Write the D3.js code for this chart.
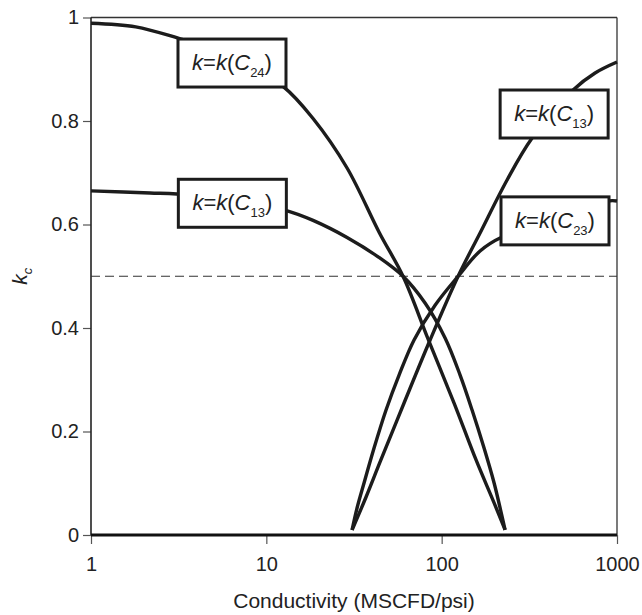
<!DOCTYPE html>
<html>
<head>
<meta charset="utf-8">
<script src="https://cdn.jsdelivr.net/npm/d3@7"></script>
<style>
  html, body { margin: 0; padding: 0; background: #fff; }
  svg { display: block; }
  text { font-family: "Liberation Sans", Arial, Helvetica, sans-serif; fill: #222; }
</style>
</head>
<body>
<svg id="chart" width="642" height="615"></svg>
<script>
// Tick values
const xTicks = [1, 10, 100, 1000];
const yTicks = [0, 0.2, 0.4, 0.6, 0.8, 1];
const threshold = 0.5;

// Relative permeability curves: [conductivity, k]
const kC24Falling = [
  [1, 0.989], [1.8, 0.982], [3.14, 0.960], [6.21, 0.9275], [12.45, 0.867],
  [18.47, 0.8048], [28.87, 0.7092], [44.2, 0.5836], [60.2, 0.5], [83.6, 0.379],
  [117.7, 0.255], [157.1, 0.145], [199.1, 0.062], [230, 0.0097]
];
const kC13Falling = [
  [1, 0.665], [2.17, 0.661], [3.09, 0.659], [6.37, 0.647], [13.3, 0.626],
  [18.47, 0.608], [28.87, 0.575], [43.4, 0.5376], [60.2, 0.5], [80.4, 0.4483],
  [104.6, 0.3807], [127.4, 0.309], [149.1, 0.2415], [174.5, 0.168],
  [199.1, 0.1005], [215.4, 0.0522], [230, 0.0097]
];
const kC13Rising = [
  [30.83, 0.0097], [37.05, 0.0734], [44.54, 0.1411], [61.03, 0.2551],
  [85.9, 0.3768], [124.1, 0.5], [165.6, 0.5836], [236.1, 0.686],
  [328, 0.7671], [561.9, 0.8599], [749.9, 0.8928], [1000, 0.914]
];
const kC23Rising = [
  [30.83, 0.0097], [32.92, 0.0522], [36.08, 0.1005], [41.16, 0.168],
  [48.17, 0.2415], [57.15, 0.309], [69.6, 0.377], [91.7, 0.444],
  [124.1, 0.5], [165.6, 0.5488], [221.1, 0.5758], [443.6, 0.6087],
  [889.6, 0.6454], [1000, 0.6454]
];

// Curve labels: subscript text and box centre in data space
const labelSubs = ["24", "13", "13", "23"];
const labelAnchors = [[6.37, 0.912], [6.4, 0.641], [438, 0.8135], [443, 0.607]];

const svg = d3.select("#chart");
const plot = { left: 91, right: 617, top: 17.5, bottom: 535 };

const x = d3.scaleLog().domain([1, 1000]).range([plot.left, plot.right]);
const y = d3.scaleLinear().domain([0, 1]).range([plot.bottom, plot.top]);

// Axes
const xAxis = svg.append("g")
  .attr("transform", `translate(0,${plot.bottom})`)
  .call(d3.axisBottom(x).tickValues(xTicks).tickFormat(d3.format("d"))
    .tickSize(9).tickPadding(13));
const yAxis = svg.append("g")
  .attr("transform", `translate(${plot.left},0)`)
  .call(d3.axisLeft(y).tickValues(yTicks)
    .tickFormat(d => d === 0 || d === 1 ? d3.format("d")(d) : d3.format(".1f")(d))
    .tickSize(8).tickPadding(4));
[xAxis, yAxis].forEach(g => {
  g.select(".domain").remove();
  g.selectAll(".tick line").attr("stroke", "#555").attr("stroke-width", 1.2);
  g.selectAll(".tick text").attr("font-size", 20).attr("fill", "#222")
    .style("font-family", '"Liberation Sans", Arial, sans-serif');
});

// Frame
svg.append("line").attr("x1", plot.left).attr("x2", plot.right)
  .attr("y1", plot.top).attr("y2", plot.top).attr("stroke", "#333").attr("stroke-width", 1.3);
svg.append("line").attr("x1", plot.right).attr("x2", plot.right)
  .attr("y1", plot.top).attr("y2", plot.bottom).attr("stroke", "#333").attr("stroke-width", 1.3);
svg.append("line").attr("x1", plot.left).attr("x2", plot.left)
  .attr("y1", plot.top).attr("y2", plot.bottom).attr("stroke", "#222").attr("stroke-width", 1.6);
svg.append("line").attr("x1", plot.left).attr("x2", plot.right)
  .attr("y1", plot.bottom).attr("y2", plot.bottom).attr("stroke", "#111").attr("stroke-width", 3);

// Threshold line
svg.append("line")
  .attr("x1", x(1)).attr("x2", x(1000))
  .attr("y1", y(threshold)).attr("y2", y(threshold))
  .attr("stroke", "#333").attr("stroke-width", 1.1)
  .attr("stroke-dasharray", "9,5");

// Curves
const line = d3.line()
  .x(d => x(d[0])).y(d => y(d[1]))
  .curve(d3.curveCatmullRom.alpha(0.5));
[kC24Falling, kC13Falling, kC13Rising, kC23Rising].forEach(series => {
  svg.append("path").datum(series)
    .attr("d", line)
    .attr("fill", "none")
    .attr("stroke", "#1c1c1c")
    .attr("stroke-width", 3.4)
    .attr("stroke-linejoin", "round");
});

// Labels in boxes
const boxW = 108, boxH = 48;
labelAnchors.forEach((a, i) => {
  const cx = x(a[0]), cy = y(a[1]);
  const g = svg.append("g").attr("transform", `translate(${cx},${cy})`);
  g.append("rect")
    .attr("x", -boxW / 2).attr("y", -boxH / 2)
    .attr("width", boxW).attr("height", boxH)
    .attr("fill", "#fff").attr("stroke", "#1c1c1c").attr("stroke-width", 3);
  const t = g.append("text").attr("x", 0).attr("y", 7)
    .attr("text-anchor", "middle").attr("font-size", 22);
  t.append("tspan").attr("font-style", "italic").text("k");
  t.append("tspan").text("=");
  t.append("tspan").attr("font-style", "italic").text("k");
  t.append("tspan").text("(");
  t.append("tspan").attr("font-style", "italic").text("C");
  t.append("tspan").attr("font-size", 13).attr("dy", 7).text(labelSubs[i]);
  t.append("tspan").attr("dy", -7).text(")");
});

// Axis titles
svg.append("text")
  .attr("x", (plot.left + plot.right) / 2).attr("y", 608)
  .attr("text-anchor", "middle").attr("font-size", 21)
  .text("Conductivity (MSCFD/psi)");

const yt = svg.append("text")
  .attr("transform", `translate(27,${y(0.5)}) rotate(-90)`)
  .attr("text-anchor", "middle").attr("font-size", 21);
yt.append("tspan").attr("font-style", "italic").text("k");
yt.append("tspan").attr("font-style", "italic").attr("font-size", 13).attr("dy", 5).text("c");
</script>
</body>
</html>
